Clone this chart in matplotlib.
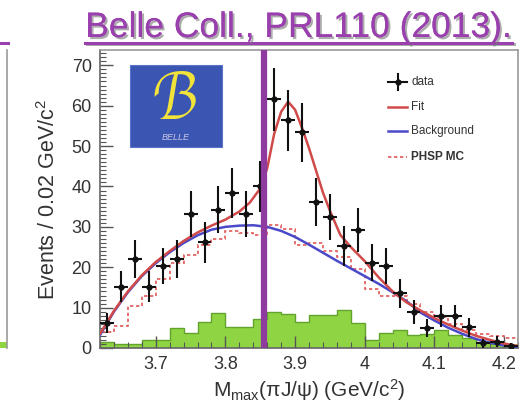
import numpy as np
import matplotlib
matplotlib.use('Agg')
import matplotlib.pyplot as plt
from matplotlib import patheffects as pe
from matplotlib.lines import Line2D
from matplotlib.patches import Rectangle
from matplotlib.ticker import MultipleLocator

plt.rcParams['font.family'] = ['Liberation Sans', 'DejaVu Sans']
plt.rcParams['mathtext.fontset'] = 'custom'
plt.rcParams['mathtext.rm'] = 'Liberation Sans'
plt.rcParams['mathtext.it'] = 'Liberation Sans:italic'

# ---------------- data ----------------
bin_edges = np.round(np.arange(3.62, 4.2201, 0.02), 3)
data_counts = [6.1, 15.2, 22.0, 15.2, 20.3, 22.0, 33.2, 26.2, 34.2, 38.3,
               33.2, 40.1, 61.6, 56.4, 53.4, 36.2, 32.4, 25.3, 29.2, 21.1,
               20.3, 13.5, 9.0, 4.9, 7.9, 7.9, 5.1, 1.2, 1.6, 0.5]
data_err = [2.5, 3.9, 4.7, 3.9, 4.5, 4.7, 5.8, 5.1, 5.8, 6.2,
            5.8, 6.3, 7.8, 7.5, 7.3, 6.0, 5.7, 5.0, 5.4, 4.6,
            4.5, 3.7, 3.0, 2.2, 2.8, 2.8, 2.3, 1.1, 1.3, 0.8]
green_hist = [1.6, 1.0, 1.0, 2.1, 2.1, 4.9, 3.6, 6.5, 8.6, 5.3,
              5.3, 7.3, 9.0, 8.4, 6.5, 8.2, 8.2, 9.4, 6.1, 2.0,
              3.6, 4.5, 3.2, 3.5, 4.5, 3.2, 2.4, 1.6, 1.0, 0.7]
phsp_mc = [4.0, 5.5, 10.5, 13.0, 17.0, 21.0, 23.0, 25.5, 27.0, 29.0,
           28.5, 28.0, 30.5, 29.5, 25.5, 26.0, 24.0, 22.5, 19.5, 14.5,
           13.0, 13.0, 11.0, 9.0, 7.8, 6.0, 4.5, 3.5, 3.0, 2.5]
fit_x = [3.62, 3.64, 3.66, 3.68, 3.70, 3.72, 3.74, 3.76, 3.78, 3.80,
         3.82, 3.835, 3.85, 3.86, 3.87, 3.88, 3.89, 3.90, 3.91, 3.92,
         3.93, 3.94, 3.95, 3.965, 3.98, 4.00, 4.02, 4.04, 4.06, 4.08,
         4.10, 4.12, 4.14, 4.16, 4.18, 4.20, 4.22]
fit_y = [3.5, 9.2, 14.0, 18.0, 21.3, 24.0, 26.5, 28.6, 30.3, 31.8,
         33.8, 36.0, 39.5, 44.5, 53.0, 58.5, 61.0, 59.0, 54.5, 49.5,
         44.0, 38.5, 34.0, 28.0, 25.0, 21.5, 17.5, 14.0, 11.3, 9.3,
         7.4, 5.8, 4.3, 3.0, 2.0, 1.1, 0.5]
bkg_x = [3.62, 3.64, 3.66, 3.68, 3.70, 3.72, 3.74, 3.76, 3.78, 3.80,
         3.82, 3.84, 3.86, 3.88, 3.90, 3.92, 3.94, 3.96, 3.98, 4.00,
         4.02, 4.04, 4.06, 4.08, 4.10, 4.12, 4.14, 4.16, 4.18, 4.20, 4.22]
bkg_y = [3.2, 9.0, 13.8, 17.8, 21.0, 23.7, 26.0, 27.9, 29.3, 30.0,
         30.3, 30.4, 30.0, 29.0, 27.5, 25.6, 23.6, 21.6, 19.7, 17.8,
         15.9, 13.8, 11.6, 8.8, 6.8, 5.0, 3.5, 2.2, 1.3, 0.6, 0.2]
marker_line_x = 3.856
x_ticks = [3.7, 3.8, 3.9, 4.0, 4.1, 4.2]
x_ticklabels = ['3.7', '3.8', '3.9', '4', '4.1', '4.2']
y_ticks = [0, 10, 20, 30, 40, 50, 60, 70]
legend_labels = ['data', 'Fit', 'Background', 'PHSP MC']

bin_centers = (bin_edges[:-1] + bin_edges[1:]) / 2
half_w = (bin_edges[1:] - bin_edges[:-1]) / 2

W, H = 530, 408
fig = plt.figure(figsize=(W / 100, H / 100), dpi=100)

def fx(px):
    return px / W

def fy(py):
    return 1 - py / H

ax = fig.add_axes([fx(100), fy(348), (518 - 100) / W, (348 - 50) / H])

# green histogram
ax.stairs(green_hist, bin_edges, fill=True, color='#8fd443', zorder=1)
ax.stairs(green_hist, bin_edges, color='#62a32e', lw=1.0, zorder=1.5)
# PHSP MC dashed
ax.stairs(phsp_mc, bin_edges, color='#e05a5a', lw=1.2,
          linestyle=(0, (2.0, 1.6)), zorder=2)
# background and fit
ax.plot(bkg_x, bkg_y, color='#4a4ac8', lw=1.8, zorder=3)
ax.plot(fit_x, fit_y, color='#d04a4a', lw=1.8, zorder=3.5)
# data
ax.errorbar(bin_centers, data_counts, xerr=half_w, yerr=data_err, fmt='o',
            color='#111111', ms=3.5, elinewidth=1.5, capsize=0, zorder=4)
# purple vertical line
ax.axvline(marker_line_x, color='#8e3a9e', lw=4.5, zorder=6)

ax.set_xlim(3.62, 4.22)
ax.set_ylim(0, 73.8)
ax.set_xticks(x_ticks)
ax.set_xticklabels(x_ticklabels)
ax.set_yticks(y_ticks)
ax.xaxis.set_minor_locator(MultipleLocator(0.02))
ax.yaxis.set_minor_locator(MultipleLocator(1))
ax.tick_params(axis='both', which='major', direction='in', length=9,
               width=1.0, color='#555555', labelsize=13, labelcolor='#333333',
               pad=6, top=False, right=False)
ax.tick_params(axis='both', which='minor', direction='in', length=4.5,
               width=0.8, color='#555555', top=False, right=False)
for s in ax.spines.values():
    s.set_color('#999999')
    s.set_linewidth(1.2)
ax.spines['left'].set_color('#666666')
ax.spines['bottom'].set_color('#666666')

ax.set_xlabel('M$_{\\rm max}$(πJ/ψ) (GeV/c$^{2}$)', fontsize=15,
              color='#333333', labelpad=3)
ax.set_ylabel('Events / 0.02 GeV/c$^{2}$', fontsize=15.5,
              color='#333333', labelpad=8)

# legend (manual)
leg_y = [82, 107, 131, 157]
x0, x1 = 388, 407
fig.add_artist(Line2D([fx(x0), fx(x1)], [fy(leg_y[0])] * 2, color='#111111', lw=1.5))
fig.add_artist(Line2D([fx((x0 + x1) / 2)] * 2, [fy(leg_y[0] - 8), fy(leg_y[0] + 8)],
                      color='#111111', lw=1.5))
fig.add_artist(Line2D([fx((x0 + x1) / 2)], [fy(leg_y[0])], marker='o', ms=3.5,
                      color='#111111'))
fig.add_artist(Line2D([fx(x0), fx(x1)], [fy(leg_y[1])] * 2, color='#d04a4a', lw=1.8))
fig.add_artist(Line2D([fx(x0), fx(x1)], [fy(leg_y[2])] * 2, color='#4a4ac8', lw=1.8))
fig.add_artist(Line2D([fx(x0), fx(x1)], [fy(leg_y[3])] * 2, color='#e05a5a', lw=1.2,
                      linestyle=(0, (2.0, 1.6))))
for i, lab in enumerate(legend_labels):
    fig.text(fx(411), fy(leg_y[i]), lab, fontsize=8.5, va='center', ha='left',
             color='#333333', fontweight='bold' if i == 3 else 'normal')

# Belle logo
fig.add_artist(Rectangle((fx(130), fy(147)), (222 - 130) / W, (147 - 65) / H,
                         transform=fig.transFigure, facecolor='#3b56b2',
                         edgecolor='#5a72c8', lw=0.8, zorder=5))
fig.text(fx(176), fy(101), r'$\mathcal{B}$', fontsize=46, color='#f2e33a',
         ha='center', va='center', zorder=6,
         family='DejaVu Sans')
fig.text(fx(176), fy(138), 'BELLE', fontsize=6.5, style='italic',
         color='#c9c6e6', ha='center', va='center', zorder=6)

# title
title = fig.text(fx(298.5), fy(37), 'Belle Coll., PRL110 (2013).', fontsize=25.5,
                 color='#9a3fae', ha='center', va='baseline')
title.set_path_effects([pe.withSimplePatchShadow(offset=(1.5, -1.5),
                                                 shadow_rgbFace='#777777', alpha=0.6),
                        pe.Normal()])
ul = Line2D([fx(85), fx(512)], [fy(42.5)] * 2, color='#9a3fae', lw=2.2)
ul.set_path_effects([pe.SimpleLineShadow(offset=(1.2, -1.2), shadow_color='#777777',
                                         alpha=0.6), pe.Normal()])
fig.add_artist(ul)

# remnants of the neighbouring panel at the left edge
fig.add_artist(Line2D([fx(7), fx(7)], [fy(50), fy(348)], color='#999999', lw=1.2))
fig.add_artist(Line2D([fx(0), fx(8)], [fy(42.5)] * 2, color='#9a3fae', lw=2.2))
fig.add_artist(Rectangle((0, fy(348)), fx(7), 6 / H, transform=fig.transFigure,
                         facecolor='#8fd443', edgecolor='none'))

fig.savefig('out.png', dpi=100)
